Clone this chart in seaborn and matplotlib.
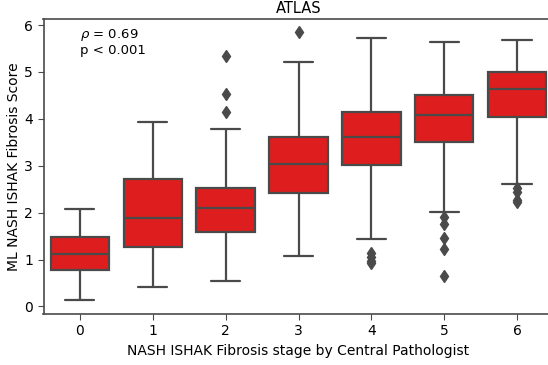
import numpy as np
import pandas as pd
import seaborn as sns
import matplotlib.pyplot as plt

# Box summary per fibrosis stage (ML NASH ISHAK fibrosis score)
stages = [0, 1, 2, 3, 4, 5, 6]
whisker_low = [0.13, 0.42, 0.55, 1.07, 1.44, 2.01, 2.61]
q1 = [0.77, 1.26, 1.59, 2.43, 3.01, 3.51, 4.03]
median = [1.12, 1.88, 2.11, 3.04, 3.61, 4.09, 4.64]
q3 = [1.49, 2.72, 2.52, 3.62, 4.14, 4.52, 4.99]
whisker_high = [2.08, 3.93, 3.78, 5.21, 5.73, 5.64, 5.68]
outliers = [
    [],
    [],
    [4.14, 4.54, 5.35],
    [5.85],
    [0.92, 0.97, 1.05, 1.13],
    [0.64, 1.23, 1.47, 1.76, 1.91],
    [2.22, 2.28, 2.45, 2.52],
]

rho_text = r"$\rho$ = 0.69"
p_text = "p < 0.001"


def expand(i, reps=20):
    """Sample whose quartiles, whiskers and fliers equal the stage summary."""
    vals = ([whisker_low[i]] + [q1[i]] * reps + [median[i]] * reps
            + [q3[i]] * reps + [whisker_high[i]] + list(outliers[i]))
    return vals


rows = []
for i, s in enumerate(stages):
    for v in expand(i):
        rows.append((s, v))
df = pd.DataFrame(rows, columns=["stage", "score"])

sns.set_style("ticks")
plt.rcParams["font.family"] = ["DejaVu Sans"]
plt.rcParams["text.color"] = "black"
plt.rcParams["axes.labelcolor"] = "black"
plt.rcParams["xtick.labelcolor"] = "black"
plt.rcParams["ytick.labelcolor"] = "black"

fig = plt.figure(figsize=(5.48, 3.65), dpi=100)
ax = fig.add_axes([43.5 / 548, 1 - 314 / 365, 510 / 548, 295 / 365])

line = "#4a4a4a"
sns.boxplot(
    data=df, x="stage", y="score", ax=ax, color="#de1e1e", saturation=1,
    width=0.8, linecolor=line, linewidth=1.6, whis=1.5,
    flierprops=dict(marker="d", markersize=6.5, markerfacecolor=line,
                    markeredgecolor=line),
    order=stages,
)

ax.set_xlim(-0.5, 6.5)
ax.set_ylim(-0.16, 6.13)
ax.set_yticks([0, 1, 2, 3, 4, 5, 6])
ax.set_xlabel("NASH ISHAK Fibrosis stage by Central Pathologist", fontsize=10)
ax.set_ylabel("ML NASH ISHAK Fibrosis Score", fontsize=10, labelpad=2)
ax.set_title("ATLAS", fontsize=10.5, pad=4)
ax.tick_params(labelsize=10, length=4, color=line)
for side in ["left", "bottom", "top"]:
    ax.spines[side].set_color(line)
    ax.spines[side].set_linewidth(1.2)
ax.spines["right"].set_visible(False)

ax.text(0.0, 5.95, rho_text, fontsize=9.5, va="top", ha="left")
ax.text(0.0, 5.6, p_text, fontsize=9.5, va="top", ha="left")

fig.savefig("out.png", dpi=100)
